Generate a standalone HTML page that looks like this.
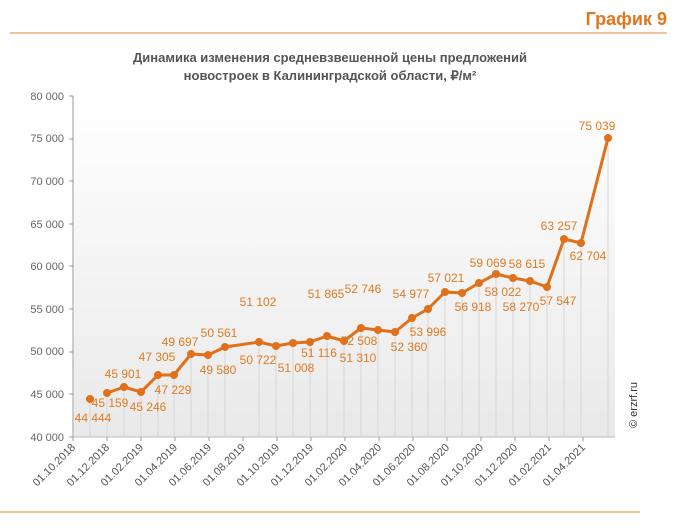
<!DOCTYPE html>
<html><head><meta charset="utf-8"><style>
html,body{margin:0;padding:0;background:#fff;}
svg{display:block;font-family:"Liberation Sans",sans-serif;}
</style></head><body>
<svg width="687" height="531" viewBox="0 0 687 531" xmlns="http://www.w3.org/2000/svg">
<defs><linearGradient id="bg" x1="0" y1="0" x2="0" y2="1"><stop offset="0" stop-color="#ffffff"/><stop offset="1" stop-color="#e9e9e9"/></linearGradient></defs>
<text x="667" y="25" text-anchor="end" font-size="18" font-weight="bold" fill="#e2761e">График 9</text>
<line x1="10" y1="33" x2="667" y2="33" stroke="#e9a257" stroke-width="1.2"/>
<line x1="0" y1="512" x2="640" y2="512" stroke="#e9a257" stroke-width="1.2"/>
<text x="330" y="62" text-anchor="middle" font-size="13" font-weight="bold" fill="#555">Динамика изменения средневзвешенной цены предложений</text>
<text x="330" y="80" text-anchor="middle" font-size="13" font-weight="bold" fill="#555">новостроек в Калининградской области, ₽/м²</text>
<rect x="74" y="96" width="541" height="341" fill="url(#bg)"/>
<g fill="#666" font-size="11" text-anchor="end">
<text x="64" y="100">80 000</text><text x="64" y="142">75 000</text><text x="64" y="185">70 000</text><text x="64" y="228">65 000</text><text x="64" y="270">60 000</text><text x="64" y="313">55 000</text><text x="64" y="355">50 000</text><text x="64" y="398">45 000</text><text x="64" y="441">40 000</text>
</g>
<g stroke="#999" stroke-width="1">
<line x1="73" y1="96" x2="73" y2="437"/><line x1="73" y1="437" x2="615" y2="437" stroke="#bbb"/>
<line x1="69" y1="96" x2="73" y2="96"/><line x1="69" y1="139" x2="73" y2="139"/><line x1="69" y1="181" x2="73" y2="181"/><line x1="69" y1="224" x2="73" y2="224"/><line x1="69" y1="266" x2="73" y2="266"/><line x1="69" y1="309" x2="73" y2="309"/><line x1="69" y1="352" x2="73" y2="352"/><line x1="69" y1="394" x2="73" y2="394"/><line x1="69" y1="437" x2="73" y2="437"/>
</g>
<g stroke="#d6d6d6" stroke-width="1">
<line x1="90" y1="399" x2="90" y2="437"/><line x1="107" y1="393" x2="107" y2="437"/><line x1="124" y1="387" x2="124" y2="437"/><line x1="141" y1="392" x2="141" y2="437"/><line x1="158" y1="375" x2="158" y2="437"/><line x1="174" y1="375" x2="174" y2="437"/><line x1="191" y1="354" x2="191" y2="437"/><line x1="208" y1="355" x2="208" y2="437"/><line x1="225" y1="347" x2="225" y2="437"/><line x1="259" y1="342" x2="259" y2="437"/><line x1="276" y1="346" x2="276" y2="437"/><line x1="293" y1="343" x2="293" y2="437"/><line x1="310" y1="342" x2="310" y2="437"/><line x1="327" y1="336" x2="327" y2="437"/><line x1="344" y1="341" x2="344" y2="437"/><line x1="361" y1="328" x2="361" y2="437"/><line x1="378" y1="330" x2="378" y2="437"/><line x1="395" y1="332" x2="395" y2="437"/><line x1="412" y1="318" x2="412" y2="437"/><line x1="428" y1="309" x2="428" y2="437"/><line x1="445" y1="292" x2="445" y2="437"/><line x1="462" y1="293" x2="462" y2="437"/><line x1="479" y1="283" x2="479" y2="437"/><line x1="496" y1="274" x2="496" y2="437"/><line x1="513" y1="278" x2="513" y2="437"/><line x1="530" y1="281" x2="530" y2="437"/><line x1="547" y1="287" x2="547" y2="437"/><line x1="564" y1="239" x2="564" y2="437"/><line x1="581" y1="243" x2="581" y2="437"/><line x1="608" y1="138" x2="608" y2="437"/>
</g>
<g stroke="#999"><line x1="73" y1="437" x2="73" y2="441"/><line x1="107" y1="437" x2="107" y2="441"/><line x1="141" y1="437" x2="141" y2="441"/><line x1="175" y1="437" x2="175" y2="441"/><line x1="209" y1="437" x2="209" y2="441"/><line x1="243" y1="437" x2="243" y2="441"/><line x1="277" y1="437" x2="277" y2="441"/><line x1="311" y1="437" x2="311" y2="441"/><line x1="345" y1="437" x2="345" y2="441"/><line x1="379" y1="437" x2="379" y2="441"/><line x1="413" y1="437" x2="413" y2="441"/><line x1="447" y1="437" x2="447" y2="441"/><line x1="481" y1="437" x2="481" y2="441"/><line x1="515" y1="437" x2="515" y2="441"/><line x1="549" y1="437" x2="549" y2="441"/><line x1="583" y1="437" x2="583" y2="441"/></g>
<polyline fill="none" stroke="#e0701a" stroke-width="3" stroke-linejoin="round" points="107,393 124,387 141,392 158,375 174,375 191,354 208,355 225,347 259,342 276,346 293,343 310,342 327,336 344,341 361,328 378,330 395,332 412,318 428,309 445,292 462,293 479,283 496,274 513,278 530,281 547,287 564,239 581,243 608,138"/>
<g fill="#e0701a">
<circle cx="90" cy="399" r="4"/><circle cx="107" cy="393" r="4"/><circle cx="124" cy="387" r="4"/><circle cx="141" cy="392" r="4"/><circle cx="158" cy="375" r="4"/><circle cx="174" cy="375" r="4"/><circle cx="191" cy="354" r="4"/><circle cx="208" cy="355" r="4"/><circle cx="225" cy="347" r="4"/><circle cx="259" cy="342" r="4"/><circle cx="276" cy="346" r="4"/><circle cx="293" cy="343" r="4"/><circle cx="310" cy="342" r="4"/><circle cx="327" cy="336" r="4"/><circle cx="344" cy="341" r="4"/><circle cx="361" cy="328" r="4"/><circle cx="378" cy="330" r="4"/><circle cx="395" cy="332" r="4"/><circle cx="412" cy="318" r="4"/><circle cx="428" cy="309" r="4"/><circle cx="445" cy="292" r="4"/><circle cx="462" cy="293" r="4"/><circle cx="479" cy="283" r="4"/><circle cx="496" cy="274" r="4"/><circle cx="513" cy="278" r="4"/><circle cx="530" cy="281" r="4"/><circle cx="547" cy="287" r="4"/><circle cx="564" cy="239" r="4"/><circle cx="581" cy="243" r="4"/><circle cx="608" cy="138" r="4"/>
</g>
<g fill="#e07b22" font-size="12" text-anchor="middle">
<text x="93" y="422">44 444</text><text x="110" y="407">45 159</text><text x="123" y="378">45 901</text><text x="148" y="411">45 246</text><text x="157" y="361">47 305</text><text x="173" y="394">47 229</text><text x="180" y="346">49 697</text><text x="218" y="374">49 580</text><text x="219" y="337">50 561</text><text x="258" y="306">51 102</text><text x="258" y="364">50 722</text><text x="296" y="372">51 008</text><text x="319" y="357">51 116</text><text x="326" y="298">51 865</text><text x="358" y="362">51 310</text><text x="363" y="293">52 746</text><text x="359" y="345">52 508</text><text x="409" y="351">52 360</text><text x="428" y="336">53 996</text><text x="411" y="298">54 977</text><text x="446" y="282">57 021</text><text x="473" y="311">56 918</text><text x="488" y="267">59 069</text><text x="503" y="296">58 022</text><text x="527" y="268">58 615</text><text x="521" y="311">58 270</text><text x="558" y="305">57 547</text><text x="559" y="230">63 257</text><text x="588" y="260">62 704</text><text x="597" y="130">75 039</text>
</g>
<g fill="#555" font-size="11" text-anchor="end">
<text transform="translate(76,448) rotate(-45)">01.10.2018</text><text transform="translate(110,448) rotate(-45)">01.12.2018</text><text transform="translate(144,448) rotate(-45)">01.02.2019</text><text transform="translate(178,448) rotate(-45)">01.04.2019</text><text transform="translate(212,448) rotate(-45)">01.06.2019</text><text transform="translate(246,448) rotate(-45)">01.08.2019</text><text transform="translate(280,448) rotate(-45)">01.10.2019</text><text transform="translate(314,448) rotate(-45)">01.12.2019</text><text transform="translate(348,448) rotate(-45)">01.02.2020</text><text transform="translate(382,448) rotate(-45)">01.04.2020</text><text transform="translate(416,448) rotate(-45)">01.06.2020</text><text transform="translate(450,448) rotate(-45)">01.08.2020</text><text transform="translate(484,448) rotate(-45)">01.10.2020</text><text transform="translate(518,448) rotate(-45)">01.12.2020</text><text transform="translate(552,448) rotate(-45)">01.02.2021</text><text transform="translate(586,448) rotate(-45)">01.04.2021</text>
</g>
<text transform="translate(637,405) rotate(-90)" text-anchor="middle" font-size="11" fill="#333">© erzrf.ru</text>
</svg>
</body></html>
